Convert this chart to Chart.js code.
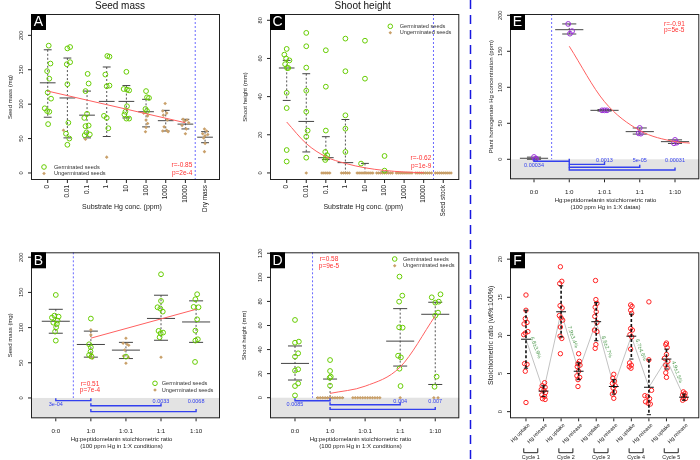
<!DOCTYPE html>
<html>
<head>
<meta charset="utf-8">
<script src="https://cdn.jsdelivr.net/npm/chart.js@4.4.0/dist/chart.umd.min.js"></script>
<style>
body{margin:0;background:#fff}
#wrap{position:relative;width:700px;height:460px}
#wrap canvas{position:absolute;left:0;top:0}
</style>
</head>
<body>
<div id="wrap">
<canvas id="cA" width="700" height="460"></canvas>
<canvas id="cB" width="700" height="460"></canvas>
<canvas id="cC" width="700" height="460"></canvas>
<canvas id="cD" width="700" height="460"></canvas>
<canvas id="cE" width="700" height="460"></canvas>
<canvas id="cF" width="700" height="460"></canvas>
</div>
<script>
// ---- data ----
const aCats = ['0','0.01','0.1','1','10','100','1000','10000','Dry mass'];
const cCats = ['0','0.01','0.1','1','10','100','1000','10000','Seed stock'];
const ratioCats = ['0:0','1:0','1:0.1','1:1','1:10'];
const fCats = ['Hg uptake','Hg release','Hg uptake','Hg release','Hg uptake','Hg release','Hg uptake','Hg release','Hg uptake','Hg release'];
const fCycles = ['Cycle 1','Cycle 2','Cycle 3','Cycle 4','Cycle 5'];
const fPct = ['6.8±3.9%','7.9±3.4%','8.6±2.7%','6.7±4.6%','4.9±1.5%'];

// A: seed mass vs substrate Hg  ([x position, mg])
const aGerm = [[0.05,185],[0.14,159],[-0.03,148],[0.08,137],[0,117],[0.17,108],[-0.15,94],[-0.03,90],[0.08,89],[0.02,71],
  [1.14,183],[1,181],[1.14,161],[0.97,158],[1,129],[1.05,73],[0.93,57],[1.1,50],[1,41],
  [2.03,144],[2.08,130],[1.92,119],[2,86],[1.86,80],[2.08,69],[1.92,68],[1.97,59],[2.14,56],[1.88,55],
  [3.03,170],[3.14,169],[2.93,143],[3.14,127],[3,126],[2.86,83],[3,80],[3.08,65],
  [4,147],[3.86,122],[4.03,121],[4.14,120],[4.03,97],[3.95,89],[3.9,85],[4,79],[4.14,79],
  [5,119],[5.05,110],[5.15,109],[4.97,93],[5.05,90]];
const aUngerm = [[0.8,62],[1.92,49],[3,23],[4.88,87],[5.08,83],[5,77],[5.08,72],[5,66],[4.97,60],
  [5.97,101],[5.85,90],[6.05,87],[5.88,84],[6.08,77],[5.92,67],[6.05,62],[5.85,61],[6.12,60],
  [6.88,78],[7.08,77],[6.95,75],[7.17,73],[6.83,69],[7.05,64],[7,57],
  [7.97,64],[8.08,61],[7.88,57],[8.14,56],[8,54],[7.93,51],[8,43],[7.97,31]];
const aMid = [131,109,84,104,104,89,76,71,52];
const aUp  = [179,167,119,154,127,107,91,78,60];
const aLo  = [81,51,51,53,80,67,61,64,44];
const aFit = [[0,119],[7,73]];

// C: shoot height vs substrate Hg
const cGerm = [[0,65],[-0.12,62],[-0.03,60],[0.14,59],[-0.08,57],[0.02,55],[0.08,55],[0,42],[0,34],[0,12],[0,6],
  [1,73.4],[1,66.4],[1,55.2],[1,43.1],[1,32.1],[1.07,22.2],[1,19],[1,8],
  [2,64.3],[2,45.2],[2,22.2],[1.97,11],[2.07,9.3],[2,8],[1.97,6.8],
  [3,70.4],[3,53.3],[3,30.2],[3,23.2],[3,11],
  [4,69.3],[4,49.4],[3.8,4.9],
  [5,8.9],[5,1.2]];
const cUngermX = [1, 1.8,1.9,2,2.1,2.2, 2.8,2.9,3,3.1,3.2,
  3.6,3.7,3.8,3.9,4,4.1,4.2,4.3,4.4, 4.6,4.7,4.8,4.9,5,5.1,5.2,5.3,5.4,
  5.6,5.7,5.8,5.9,6,6.1,6.2,6.3,6.4, 6.6,6.7,6.8,6.9,7,7.1,7.2,7.3,7.4,
  7.6,7.7,7.8,7.9,8,8.1,8.2,8.3,8.4];
const cMid = [55,27,8,5.4,0,0,0,0,0];
const cUp  = [59,52,19,28,5,0.5,0,0,0];
const cLo  = [38,11,7,0,0,0,0,0,0];
const cFit = [[0,26.7],[1,15.4],[2,8.5],[3,5.0],[4,2.7],[5,1.3],[6,0.5],[7,0.1]];

// B: seed mass vs Hg:peptidomelanin ratio
const bGerm = [[0,146.4],[-0.04,117],[0.08,115.6],[-0.11,114.2],[0.05,110],[-0.07,107],[0.03,105.2],[0.01,100.5],[-0.02,94.3],[0,81.5],
  [1,112.8],[0.95,76.3],[1,72],[0.99,65.9],[0.95,61.1],[1.02,58.8],
  [2,58.8],
  [3,175.8],[3,137.9],[2.9,128.9],[2.98,127],[3.05,122.7],[2.93,95.3],[3.06,92.9],[2.99,91.9],[2.96,86.3],
  [4.03,147.4],[3.98,140.3],[3.93,129.4],[4.07,128.9],[4.03,111.8],[3.98,95.7],[4.05,83.4],[3.98,81.5],[3.97,51.2]];
const bUngerm = [[1,96.7],[1,89.6],[0.97,57.8],[1.05,56.4],[1.02,62],
  [2,84.8],[1.92,77.7],[2.03,76.3],[2.08,74.9],[1.96,68.2],[1.93,59.7],[2.07,57.8],[2,49.3],
  [3,57.8]];
const bMid = [109,76,68,113,108];
const bUp  = [126,95,79,146,138];
const bLo  = [92,58,56,82,79];
const bFit = [[1,85],[4,126]];

// D: shoot height vs ratio
const dGerm = [[0,64.6],[0,45.7],[0.11,46.6],[0.09,36.9],[0,34.1],[0.09,23.6],[0,22.5],[0.09,11.9],[0,9.7],[0,1.9],
  [1,31.3],[1,22.2],[1.02,17.5],[0.99,16.6],[1,10],
  [2.98,100.6],[3.06,84.8],[2.97,79.8],[2.97,58.5],[3.07,58.2],[2.94,34.9],[3.02,33.5],[2.98,24.1],[3.01,9.7],
  [3.9,83.4],[4.15,85.9],[4,79],[4.1,79.8],[4.08,70.7],[4,68.2],[4.04,17.5],[3.98,9.1]];
const dUngermX = [0.65,0.72,0.79,0.86,0.93,1,1.07,1.14,1.21,1.28,1.35,
  1.65,1.72,1.79,1.86,1.93,2,2.07,2.14,2.21,2.28,2.35,2.42, 3, 3.96,4.08];
const dMid = [28.5,0,null,47,69.3];
const dUp  = [43,15.5,null,74,79.3];
const dLo  = [14.7,0,null,26.3,11];
const dFit = [[1,3.6],[2,9.6],[3,25.5],[4,68]];

// E: plant Hg concentration vs ratio
const ePts = [[0,3.2],[0.06,0.9],[0.03,0],
  [0.97,188],[1.08,178],[1.02,174.5],
  [1.93,68],[2,68],[2.07,68],
  [3,43.5],[2.97,36.1],[3.03,35.6],
  [4,26.9],[4.05,23.1],[3.97,22.2]];
const eMid = [1.4,180,68,38.4,24.5];
const eUp  = [3,188,69,43.5,27];
const eLo  = [0,174,67,35,22];
const eFit = [[1,157],[2,80],[3,40],[4,24.5],[4.42,22.5]];

// F: stoichiometric ratio over 5 cycles
const fPts = [[0,15.3],[0,13.3],[-0.04,12.2],[0.06,11.7],[-0.11,11.5],[0.11,10.5],[-0.04,10.3],[-0.13,10.1],[-0.08,6.3],[0.06,6.2],[-0.04,5.3],[0,1.2],
  [1.06,3.8],[0.92,3.4],[1.09,3.2],[0.87,2.9],[1.02,2.8],[1.11,2.5],[0.9,2.2],[1.06,2.0],[0.94,1.7],[1.09,1.6],
  [1.96,19.0],[2.04,17.1],[1.92,16.8],[1.94,13.9],[2.06,13.6],[1.9,12.6],[2,12.3],[2.09,12.0],[1.96,11.1],[1.94,9.9],[2.04,9.6],[1.96,7.6],
  [3,7.6],[3.04,6.6],[2.96,6.3],[3.08,6.1],[2.92,5.9],[3,5.3],[2.9,4.7],[3.06,4.5],[2.96,4.2],[2.96,3.3],
  [3.96,17.2],[3.98,14.7],[4.04,14.2],[3.94,13.7],[4,13.1],[3.92,12.5],[4.04,11.7],[3.9,10.7],[4.04,10.5],[3.98,8.8],[3.94,8.3],
  [5,4.9],[4.94,4.4],[5.04,4.0],[4.92,3.7],[5.08,3.4],[4.96,3.1],[5.04,2.6],[4.92,2.3],[5,1.75],
  [5.96,14.0],[6.04,13.8],[5.96,13.3],[6.02,12.9],[5.96,10.9],[6.06,10.7],[5.92,10.1],[6.02,9.8],[5.96,8.2],[5.9,6.4],[6,6.1],[5.88,5.9],[5.98,5.7],
  [7,14.4],[7,6.8],[7.15,2.8],[6.77,2.1],[6.92,2.0],[7.04,1.7],[6.81,1.3],[6.96,1.1],[7.08,1.0],
  [8,9.0],[7.96,8.8],[8.04,8.4],[8,7.5],[7.89,7.0],[8.08,6.6],[7.96,6.1],[8.04,5.7],[7.96,5.1],[8,4.5],
  [8.96,2.6],[9.06,2.4],[8.92,2.2],[9.04,2.1],[8.96,1.8],[9.08,1.7],[8.92,1.5]];
const fMean = [9.5,2.7,13.1,5.3,11.8,3.3,9.9,3.2,6.9,1.9];
const fUp   = [13.3,3.4,16.5,6.4,14.3,4.2,12.8,6.8,8.2,2.3];
const fLo   = [5.7,2.0,9.8,4.2,9.3,2.3,6.9,-0.4,5.6,1.5];

// ---- drawing ----
const FONT = '"Liberation Sans", Arial, Helvetica, sans-serif';
const GREEN = '#66cc00', TAN = '#c9a06a', RED = '#ff6060', BLUE = '#3340ee';

function T(ctx, s, x, y, o) {
  o = o || {};
  ctx.save();
  ctx.translate(x, y);
  if (o.rot) ctx.rotate(o.rot * Math.PI / 180);
  ctx.font = (o.size || 6) + 'px ' + FONT;
  ctx.fillStyle = o.color || '#222';
  ctx.textAlign = o.align || 'center';
  ctx.textBaseline = o.base || 'middle';
  ctx.fillText(s, 0, 0);
  ctx.restore();
}
function L(ctx, pts, color, w, dash) {
  ctx.save();
  ctx.strokeStyle = color; ctx.lineWidth = w || 1;
  ctx.setLineDash(dash || []);
  ctx.beginPath();
  pts.forEach((p, i) => i ? ctx.lineTo(p[0], p[1]) : ctx.moveTo(p[0], p[1]));
  ctx.stroke();
  ctx.restore();
}
function marker(ctx, kind, x, y) {
  ctx.save();
  if (kind === 'germ') {
    ctx.strokeStyle = GREEN; ctx.lineWidth = 1;
    ctx.beginPath(); ctx.arc(x, y, 2.3, 0, Math.PI * 2); ctx.stroke();
  } else {
    ctx.fillStyle = TAN;
    ctx.beginPath(); ctx.moveTo(x, y - 1.8); ctx.lineTo(x + 1.8, y); ctx.lineTo(x, y + 1.8); ctx.lineTo(x - 1.8, y); ctx.closePath(); ctx.fill();
  }
  ctx.restore();
}

function deco(p) {
  return {
    id: 'deco' + p.letter,
    beforeDatasetsDraw(chart) {
      const { ctx, chartArea: a, scales: { x, y } } = chart;
      if (p.band) {
        ctx.fillStyle = '#e3e3e3';
        ctx.fillRect(a.left, y.getPixelForValue(0), a.right - a.left, a.bottom - y.getPixelForValue(0));
      }
      if (p.vline != null) {
        const vx = x.getPixelForValue(p.vline);
        L(ctx, [[vx, a.top], [vx, p.band ? y.getPixelForValue(0) : a.bottom]], '#6a6aff', 1, [2, 2]);
      }
      if (p.mid && !p.blackBars) drawBars(chart, p, '#444', '#555', 1, [2, 2], 0.4, 0.2);
    },
    afterDatasetsDraw(chart) {
      const { ctx, chartArea: a, scales: { x, y } } = chart;
      if (p.mid && p.blackBars) drawBars(chart, p, '#111', '#111', 1.6, [3, 2], 0.28, 0.12);
      // p-value brackets
      (p.brackets || []).forEach(b => {
        const x1 = x.getPixelForValue(b[0]), x2 = x.getPixelForValue(b[1]), by = y.getPixelForValue(b[2]);
        L(ctx, [[x1, by - 2.5], [x1, by], [x2, by], [x2, by - 2.5]], BLUE, 1.4);
        const lx = x.getPixelForValue(b[4] === 'from' ? b[0] : b[1]);
        T(ctx, b[3], lx, y.getPixelForValue(b[5]), { size: 5.5, color: BLUE });
      });
      // box
      ctx.save(); ctx.strokeStyle = '#222'; ctx.lineWidth = 1;
      ctx.strokeRect(a.left + 0.5, a.top + 0.5, a.right - a.left - 1, a.bottom - a.top - 1);
      ctx.restore();
      // y axis
      p.yTicks.forEach(v => {
        const py = y.getPixelForValue(v);
        L(ctx, [[a.left - 3, py], [a.left, py]], '#222', 1);
        T(ctx, String(v), a.left - 9.5, py, { size: 5.6, rot: -90 });
      });
      // x axis
      p.cats.forEach((c, i) => {
        const px = x.getPixelForValue(i);
        L(ctx, [[px, a.bottom], [px, a.bottom + 3]], '#222', 1);
        if (p.catMode === 'vert') T(ctx, c, px, a.bottom + 5, { size: 6.4, rot: -90, align: 'right' });
        else if (p.catMode === 'diag') T(ctx, c, px + 3, a.bottom + 6, { size: 5.4, rot: -45, align: 'right' });
        else T(ctx, c, px, a.bottom + 13.4, { size: 6.2 });
      });
      p.xTitle.forEach((s, i) => T(ctx, s, p.xTitleX, a.bottom + p.xTitleDy + i * 7.3, { size: p.xTitleSize || 6 }));
      T(ctx, p.yTitle, p.yTitleX, (a.top + a.bottom) / 2, { size: p.yTitleSize || 6, rot: -90 });
      if (p.title) T(ctx, p.title, p.titleX, 6.5, { size: 10, color: '#111' });
      // panel letter
      ctx.fillStyle = '#000';
      ctx.fillRect(a.left, a.top, 15, 16);
      T(ctx, p.letter, a.left + 7.5, a.top + 8.5, { size: 14, color: '#fff' });
      // r / p
      if (p.rp) p.rp.lines.forEach((s, i) => T(ctx, s, p.rp.x, p.rp.y[i], { size: 6.5, color: '#ff3030', align: p.rp.align }));
      // legend
      if (p.legend) {
        const lg = p.legend;
        [['germ', 'Germinated seeds'], ['ungerm', 'Ungerminated seeds']].forEach((it, i) => {
          marker(ctx, it[0], lg.mx, lg.y[i]);
          T(ctx, it[1], lg.tx, lg.y[i], { size: 5.6, align: 'left', color: '#333' });
        });
      }
      if (p.extra) p.extra(chart);
    }
  };
}

function drawBars(chart, p, cLine, cV, w, dash, half, halfS) {
  const { ctx, scales: { x, y } } = chart;
  p.mid.forEach((m, i) => {
    if (m == null) return;
    const px = x.getPixelForValue(i);
    L(ctx, [[px, y.getPixelForValue(p.up[i])], [px, y.getPixelForValue(p.lo[i])]], cV, w, dash);
    L(ctx, [[x.getPixelForValue(i - half), y.getPixelForValue(m)], [x.getPixelForValue(i + half), y.getPixelForValue(m)]], cLine, 1);
    [p.up[i], p.lo[i]].forEach(v => {
      L(ctx, [[x.getPixelForValue(i - halfS), y.getPixelForValue(v)], [x.getPixelForValue(i + halfS), y.getPixelForValue(v)]], cLine, 1);
    });
  });
}

function xy(arr) { return arr.map(d => ({ x: d[0], y: d[1] })); }

function panel(p) {
  const ds = [];
  if (p.fit) ds.push({ data: xy(p.fit), showLine: true, borderColor: RED, borderWidth: 1, pointRadius: 0,
    cubicInterpolationMode: 'monotone', order: 0 });
  if (p.pts) ds.push({ data: xy(p.pts), pointRadius: p.ptR || 2.4, borderColor: p.ptColor || GREEN,
    backgroundColor: 'rgba(0,0,0,0)', borderWidth: 1, order: 1 });
  if (p.ungerm) ds.push({ data: xy(p.ungerm), pointStyle: 'rectRot', pointRadius: 1.8, borderWidth: 0,
    borderColor: TAN, backgroundColor: TAN, order: 2 });
  if (p.meanLine) ds.push({ data: p.meanLine.map((v, i) => ({ x: i, y: v })), showLine: true, borderColor: '#c2c2c2',
    borderWidth: 1, pointRadius: 0, order: 5 });
  const a = p.area;
  return new Chart(document.getElementById(p.id), {
    type: 'scatter',
    data: { datasets: ds },
    options: {
      responsive: false, animation: false, events: [],
      layout: { autoPadding: false, padding: { left: a[0], top: a[1], right: 700 - a[2], bottom: 460 - a[3] } },
      plugins: { legend: { display: false }, tooltip: { enabled: false } },
      scales: {
        x: { type: 'linear', display: false, min: p.xr[0], max: p.xr[1] },
        y: { type: 'linear', display: false, min: p.yr[0], max: p.yr[1] }
      }
    },
    plugins: [deco(p)]
  });
}

panel({ id: 'cA', letter: 'A', area: [31, 14, 220, 180], xr: [-0.85, 8.76], yr: [-10.2, 231],
  cats: aCats, catMode: 'vert', yTicks: [0, 50, 100, 150, 200],
  pts: aGerm, ungerm: aUngerm, mid: aMid, up: aUp, lo: aLo, fit: aFit, vline: 7.5,
  title: 'Seed mass', titleX: 120, xTitle: ['Substrate Hg conc. (ppm)'], xTitleX: 122, xTitleDy: 27, xTitleSize: 7,
  yTitle: 'Seed mass (mg)', yTitleX: 10,
  rp: { lines: ['r=-0.85', 'p=2e-4'], x: 192.3, y: [165.3, 173], align: 'right' },
  legend: { mx: 44, tx: 54, y: [167, 173.5] } });

panel({ id: 'cC', letter: 'C', area: [270, 14, 459.3, 180], xr: [-0.853, 8.82], yr: [-3.7, 83.3],
  cats: cCats, catMode: 'vert', yTicks: [0, 20, 40, 60, 80],
  pts: cGerm, ungerm: cUngermX.map(v => [v, 0]), mid: cMid, up: cUp, lo: cLo, fit: cFit, vline: 7.5,
  title: 'Shoot height', titleX: 362.7, xTitle: ['Substrate Hg conc. (ppm)'], xTitleX: 363.3, xTitleDy: 27, xTitleSize: 7,
  yTitle: 'Shoot height (mm)', yTitleX: 245,
  rp: { lines: ['r=-0.62', 'p=1e-9'], x: 431.3, y: [158, 166], align: 'right' },
  legend: { mx: 390.3, tx: 399.7, y: [26.3, 32.7] } });

panel({ id: 'cB', letter: 'B', area: [31, 252.3, 220, 418.3], xr: [-0.707, 4.682], yr: [-28.9, 207],
  cats: ratioCats, catMode: 'horiz', yTicks: [0, 50, 100, 150, 200],
  pts: bGerm, ungerm: bUngerm, mid: bMid, up: bUp, lo: bLo, fit: bFit, vline: 0.5, band: true,
  brackets: [[0, 1, -3.8, '3e-04', 'from', -9], [1, 3, -11, '0.0033', 'to', -5.7], [1, 4, -19.4, '0.0068', 'to', -5.7]],
  xTitle: ['Hg:peptidomelanin stoichiometric ratio', '(100 ppm Hg in 1:X conditions)'], xTitleX: 121.5, xTitleDy: 20.7,
  yTitle: 'Seed mass (mg)', yTitleX: 10,
  rp: { lines: ['r=0.51', 'p=7e-4'], x: 90, y: [384.3, 390.5], align: 'center' },
  legend: { mx: 155, tx: 161.7, y: [383.3, 390] } });

panel({ id: 'cD', letter: 'D', area: [270, 252.3, 459.3, 418.3], xr: [-0.713, 4.686], yr: [-17.1, 120.8],
  cats: ratioCats, catMode: 'horiz', yTicks: [0, 20, 40, 60, 80, 100, 120],
  pts: dGerm, ungerm: dUngermX.map(v => [v, 0]), mid: dMid, up: dUp, lo: dLo, fit: dFit, vline: 0.5, band: true,
  brackets: [[0, 1, -2.5, '0.0085', 'from', -5.3], [1, 3, -5.8, '0.004', 'to', -3.2], [1, 4, -9.7, '0.007', 'to', -3.2]],
  xTitle: ['Hg:peptidomelanin stoichiometric ratio', '(100 ppm Hg in 1:X conditions)'], xTitleX: 360.5, xTitleDy: 20.7,
  yTitle: 'Shoot height (mm)', yTitleX: 244,
  rp: { lines: ['r=0.58', 'p=9e-5'], x: 329, y: [259, 266], align: 'center' },
  legend: { mx: 394.7, tx: 403, y: [259, 265.7] } });

panel({ id: 'cE', letter: 'E', area: [510, 14, 699.3, 179.3], xr: [-0.681, 4.689], yr: [-27.8, 201.8],
  cats: ratioCats, catMode: 'horiz', yTicks: [0, 50, 100, 150, 200],
  pts: ePts, ptColor: '#9b30d8', ptR: 2.4, mid: eMid, up: eUp, lo: eLo, fit: eFit, vline: 0.5, band: true,
  brackets: [[0, 1, -2.8, '0.00034', 'from', -9.3], [1, 2, -7, '0.0013', 'to', -2.3], [1, 3, -11, '5e-05', 'to', -2.3], [1, 4, -14.8, '0.00031', 'to', -2.3]],
  xTitle: ['Hg:peptidomelanin stoichiometric ratio', '(100 ppm Hg in 1:X datas)'], xTitleX: 605.5, xTitleDy: 20.7,
  yTitle: 'Plant homogenate Hg concentration (ppm)', yTitleX: 491,
  rp: { lines: ['r=-0.91', 'p=5e-5'], x: 664, y: [24.3, 30.3], align: 'left' } });

panel({ id: 'cF', letter: 'F', area: [510, 252.3, 699.3, 418.3], xr: [-0.91, 9.87], yr: [-0.87, 20.9],
  cats: fCats, catMode: 'diag', yTicks: [0, 5, 10, 15, 20],
  pts: fPts, ptColor: '#ff2020', ptR: 2.2, mid: fMean, up: fUp, lo: fLo, blackBars: true, meanLine: fMean,
  xTitle: [], yTitle: 'Stoichiometric ratio (wt%:100%)', yTitleX: 491, yTitleSize: 7,
  extra(chart) {
    const { ctx, scales: { x, y } } = chart;
    const lx = [0.55, 2.66, 4.6, 6.54, 8.6], ly = [8.4, 9.8, 8.5, 8.1, 5.2];
    fPct.forEach((s, i) => T(ctx, s, x.getPixelForValue(lx[i]), y.getPixelForValue(ly[i]), { size: 5.4, rot: 70, color: '#4f9a4f' }));
    fCycles.forEach((s, k) => {
      const cx = (x.getPixelForValue(2 * k) + x.getPixelForValue(2 * k + 1)) / 2 - 4;
      L(ctx, [[cx - 7, 448.3], [cx - 7, 452.7], [cx + 7, 452.7], [cx + 7, 448.3]], '#222', 1);
      T(ctx, s, cx, 457.3, { size: 5.4 });
    });
    // divider between left and right blocks
    L(ctx, [[470.5, 0], [470.5, 460]], '#1818e0', 1.5, [9, 6]);
  } });
</script>
</body>
</html>
